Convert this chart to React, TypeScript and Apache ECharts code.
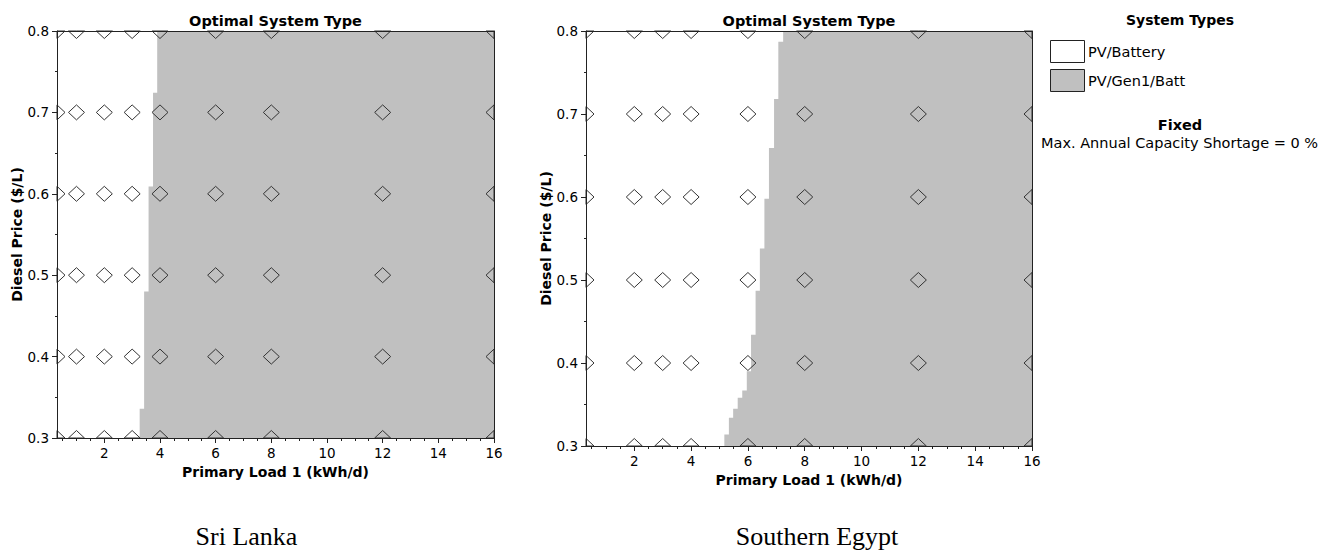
import React, { useEffect, useRef } from 'react';
import * as echarts from 'echarts';

// ---- data ----
const dieselPrices = [0.3, 0.4, 0.5, 0.6, 0.7, 0.8];
const sriLankaLoads = [0.3, 1, 2, 3, 4, 6, 8, 12, 16];
const egyptLoads = [0.3, 2, 3, 4, 6, 8, 12, 16];

// boundary between PV/Battery (left, white) and PV/Gen1/Batt (right, grey)
// each step: load where grey starts, valid up to the given diesel price
const sriLankaBoundaryLoad = [3.27, 3.43, 3.59, 3.75, 3.9];
const sriLankaBoundaryTopPrice = [0.336, 0.48, 0.609, 0.724, 0.8];
const egyptBoundaryLoad = [5.17, 5.33, 5.48, 5.64, 5.8, 5.96, 6.11, 6.27, 6.42, 6.58, 6.74, 6.92, 7.07, 7.24];
const egyptBoundaryTopPrice = [0.314, 0.334, 0.345, 0.358, 0.367, 0.39, 0.434, 0.487, 0.538, 0.598, 0.659, 0.718, 0.787, 0.8];

const xTickLabels = [2, 4, 6, 8, 10, 12, 14, 16];
const xMinorTicks = [0.5, 1, 1.5, 2.5, 3, 3.5, 4.5, 5, 5.5, 6.5, 7, 7.5, 8.5, 9, 9.5, 10.5, 11, 11.5, 12.5, 13, 13.5, 14.5, 15, 15.5];

const X_MIN = 0.3;
const X_MAX = 16;
const Y_MIN = 0.3;
const Y_MAX = 0.8;

const legendTypes = ['PV/Battery', 'PV/Gen1/Batt'];
const legendColors = ['#ffffff', '#c0c0c0'];
const captions = ['Sri Lanka', 'Southern Egypt'];

const FONT = '"DejaVu Sans", sans-serif';
const AXIS_COLOR = '#222';
const GREY = '#c0c0c0';

function regionVertices(bLoad: number[], bTop: number[]) {
  const pts: number[][] = [[X_MAX, Y_MIN], [bLoad[0], Y_MIN]];
  for (let i = 0; i < bLoad.length; i++) {
    pts.push([bLoad[i], bTop[i]]);
    if (i + 1 < bLoad.length) pts.push([bLoad[i + 1], bTop[i]]);
  }
  pts.push([X_MAX, Y_MAX]);
  return pts;
}

function cases(loads: number[]) {
  const out: number[][] = [];
  for (const p of dieselPrices) for (const l of loads) out.push([l, p]);
  return out;
}

export default function App() {
  const ref = useRef<HTMLDivElement>(null);

  useEffect(() => {
    if (!ref.current) return;
    const chart = echarts.init(ref.current, null, { renderer: 'svg' });

    const grids = [
      { left: 57, top: 31, width: 437, height: 407 },
      { left: 586, top: 31, width: 446, height: 415 },
    ];

    const xAxes: any[] = [];
    const yAxes: any[] = [];
    const series: any[] = [];
    const panels = [
      { loads: sriLankaLoads, bLoad: sriLankaBoundaryLoad, bTop: sriLankaBoundaryTopPrice },
      { loads: egyptLoads, bLoad: egyptBoundaryLoad, bTop: egyptBoundaryTopPrice },
    ];

    panels.forEach((panel, k) => {
      const base = { type: 'value', min: X_MIN, max: X_MAX, gridIndex: k, splitLine: { show: false }, z: 10 };
      xAxes.push({
        ...base,
        position: 'bottom',
        name: 'Primary Load 1 (kWh/d)',
        nameLocation: 'middle',
        nameGap: 23,
        nameTextStyle: { fontFamily: FONT, fontWeight: 'bold', fontSize: 14, color: '#000' },
        axisLine: { show: true, lineStyle: { color: AXIS_COLOR, width: 1 } },
        axisTick: { show: true, customValues: xTickLabels, length: 5, lineStyle: { color: AXIS_COLOR } },
        axisLabel: { show: true, customValues: xTickLabels, margin: 8, fontFamily: FONT, fontSize: 13.5, color: '#000' },
      });
      xAxes.push({
        ...base,
        position: 'bottom',
        axisLine: { show: false },
        axisTick: { show: true, customValues: xMinorTicks, length: 3, lineStyle: { color: AXIS_COLOR } },
        axisLabel: { show: false },
      });
      xAxes.push({
        ...base,
        position: 'top',
        axisLine: { show: true, lineStyle: { color: AXIS_COLOR, width: 1 } },
        axisTick: { show: false },
        axisLabel: { show: false },
      });
      yAxes.push({
        type: 'value',
        min: Y_MIN,
        max: Y_MAX,
        interval: 0.1,
        gridIndex: k,
        position: 'left',
        z: 10,
        name: 'Diesel Price ($/L)',
        nameLocation: 'middle',
        nameGap: 31,
        nameTextStyle: { fontFamily: FONT, fontWeight: 'bold', fontSize: 14, color: '#000' },
        splitLine: { show: false },
        axisLine: { show: true, lineStyle: { color: AXIS_COLOR, width: 1 } },
        axisTick: { show: true, length: 5, lineStyle: { color: AXIS_COLOR } },
        minorTick: { show: true, splitNumber: 2, length: 2, lineStyle: { color: AXIS_COLOR } },
        axisLabel: {
          margin: 8,
          fontFamily: FONT,
          fontSize: 13.5,
          color: '#000',
          formatter: (v: number) => v.toFixed(1),
        },
      });
      yAxes.push({
        type: 'value',
        min: Y_MIN,
        max: Y_MAX,
        interval: 0.1,
        gridIndex: k,
        position: 'right',
        z: 10,
        splitLine: { show: false },
        axisLine: { show: true, lineStyle: { color: AXIS_COLOR, width: 1 } },
        axisTick: { show: false },
        axisLabel: { show: false },
      });

      const xi = k * 3;
      const yi = k * 2;
      const verts = regionVertices(panel.bLoad, panel.bTop);
      series.push({
        type: 'custom',
        xAxisIndex: xi,
        yAxisIndex: yi,
        clip: true,
        z: 2,
        silent: true,
        data: verts,
        encode: { x: 0, y: 1 },
        renderItem: (params: any, api: any) => {
          if (params.dataIndex !== 0) return null;
          const pts = verts.map((v) => api.coord(v));
          return {
            type: 'polygon',
            shape: { points: pts },
            style: { fill: GREY, stroke: 'none' },
          };
        },
      });
      series.push({
        type: 'custom',
        xAxisIndex: xi,
        yAxisIndex: yi,
        clip: false,
        z: 3,
        silent: true,
        data: cases(panel.loads),
        encode: { x: 0, y: 1 },
        renderItem: (params: any, api: any) => {
          const c = api.coord([api.value(0), api.value(1)]);
          const tl = api.coord([X_MIN, Y_MAX]);
          const br = api.coord([X_MAX, Y_MIN]);
          const hw = 8;
          const hh = 7.5;
          const clamp = (p: number[]) => [
            Math.min(Math.max(p[0], tl[0]), br[0]),
            Math.min(Math.max(p[1], tl[1]), br[1]),
          ];
          const raw = [
            [c[0], c[1] - hh],
            [c[0] + hw, c[1]],
            [c[0], c[1] + hh],
            [c[0] - hw, c[1]],
          ];
          return {
            type: 'polygon',
            shape: { points: raw.map(clamp) },
            style: { fill: 'none', stroke: '#333', lineWidth: 1 },
          };
        },
      });
    });

    const graphic: any[] = [
      {
        type: 'text',
        x: 275.5,
        y: 21,
        style: { text: 'Optimal System Type', font: `bold 14.5px ${FONT}`, fill: '#000', align: 'center', verticalAlign: 'middle' },
      },
      {
        type: 'text',
        x: 809,
        y: 21,
        style: { text: 'Optimal System Type', font: `bold 14.5px ${FONT}`, fill: '#000', align: 'center', verticalAlign: 'middle' },
      },
      {
        type: 'text',
        x: 1180,
        y: 20,
        style: { text: 'System Types', font: `bold 14px ${FONT}`, fill: '#000', align: 'center', verticalAlign: 'middle' },
      },
      {
        type: 'text',
        x: 1180,
        y: 125,
        style: { text: 'Fixed', font: `bold 14.5px ${FONT}`, fill: '#000', align: 'center', verticalAlign: 'middle' },
      },
      {
        type: 'text',
        x: 1041,
        y: 143,
        style: { text: 'Max. Annual Capacity Shortage = 0 %', font: `14.5px ${FONT}`, fill: '#000', align: 'left', verticalAlign: 'middle' },
      },
      {
        type: 'text',
        x: 246.5,
        y: 536,
        style: { text: captions[0], font: `26px "Liberation Serif", serif`, fill: '#000', align: 'center', verticalAlign: 'middle' },
      },
      {
        type: 'text',
        x: 817,
        y: 536,
        style: { text: captions[1], font: `26px "Liberation Serif", serif`, fill: '#000', align: 'center', verticalAlign: 'middle' },
      },
    ];
    legendTypes.forEach((name, i) => {
      const top = 40 + i * 29;
      graphic.push({
        type: 'rect',
        shape: { x: 1050.5, y: top + 0.5, width: 34, height: 22 },
        style: { fill: legendColors[i], stroke: '#222', lineWidth: 1 },
      });
      graphic.push({
        type: 'text',
        x: 1088,
        y: top + 11.5,
        style: { text: name, font: `14.5px ${FONT}`, fill: '#000', align: 'left', verticalAlign: 'middle' },
      });
    });

    chart.setOption({
      animation: false,
      backgroundColor: '#ffffff',
      grid: grids.map((g) => ({ ...g, show: true, backgroundColor: '#ffffff', borderWidth: 0 })),
      xAxis: xAxes,
      yAxis: yAxes,
      series,
      graphic,
    });

    return () => chart.dispose();
  }, []);

  return (
    <div
      ref={ref}
      style={{ position: 'fixed', left: 0, top: 0, width: 1339, height: 550, background: '#fff' }}
    />
  );
}
